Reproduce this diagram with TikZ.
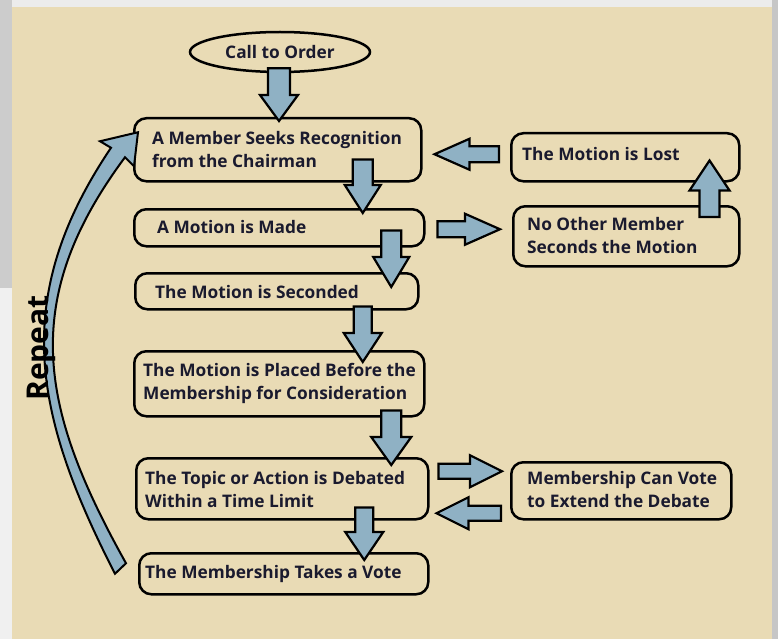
\documentclass[tikz,border=0pt]{standalone}
\usepackage{fontspec}
\setmainfont{Open Sans}
\usetikzlibrary{calc,shapes.geometric}

\definecolor{panel}{HTML}{E9DBB5}
\definecolor{arrowblue}{HTML}{8FB1C4}
\definecolor{ink}{HTML}{1A1A2E}

% fat block arrow: start, tip, half shaft, half head, head length
\newcommand{\blockarrow}[5]{%
	\path ($(#2)!#5!(#1)$) coordinate (hb);
	\draw[blockarr] ($(#1)!#3!90:(#2)$) -- ($(hb)!#3!-90:(#1)$) -- ($(hb)!#4!-90:(#1)$)
		-- (#2) -- ($(hb)!#4!90:(#1)$) -- ($(hb)!#3!90:(#1)$) -- ($(#1)!#3!-90:(#2)$) -- cycle;
}

\begin{document}
\begin{tikzpicture}[x=1pt,y=-1pt,
	stage/.style={draw, line width=2.5pt, rounded corners=12pt, fill=panel, anchor=north west, inner sep=0pt},
	txt/.style={anchor=west, align=left, inner sep=0pt, text=ink, font=\bfseries\fontsize{17.3}{23}\selectfont},
	blockarr/.style={draw, line width=2.2pt, fill=arrowblue, line join=miter}]
	\useasboundingbox (0,0) rectangle (778,639);
	% frame
	\fill[white] (0,0) rectangle (778,639);
	\fill[gray!40] (0,0) rectangle (12,288);
	\fill[gray!12] (0,288) rectangle (12,639);
	\fill[gray!45] (772,0) rectangle (778,639);
	\fill[gray!15] (12,0) rectangle (772,7);
	\fill[panel] (12,7) rectangle (772,639);

	\node[draw, ellipse, line width=2.5pt, fill=panel, minimum width=180pt, minimum height=40pt, inner sep=0pt,
		text=ink, font=\bfseries\fontsize{17.3}{23}\selectfont] (order) at (280,52) {Call to Order};

	\node[stage, minimum width=287pt, minimum height=63pt] (recog) at (133,117) {};
	\node[txt] (recog-t) at ($(recog.west)+(19,0)$) {A Member Seeks Recognition\\from the Chairman};
	\node[stage, minimum width=290pt, minimum height=37pt] (made) at (133,208) {};
	\node[txt] (made-t) at ($(made.west)+(24,-1)$) {A Motion is Made};
	\node[stage, minimum width=283pt, minimum height=36pt] (second) at (134,272) {};
	\node[txt] (second-t) at ($(second.west)+(21,1)$) {The Motion is Seconded};
	\node[stage, minimum width=290pt, minimum height=65pt] (placed) at (133,350) {};
	\node[txt] (placed-t) at ($(placed.west)+(10,0)$) {The Motion is Placed Before the\\Membership for Consideration};
	\node[stage, minimum width=292pt, minimum height=61pt] (debate) at (135,457) {};
	\node[txt] (debate-t) at ($(debate.west)+(10,1)$) {The Topic or Action is Debated\\Within a Time Limit};
	\node[stage, minimum width=289pt, minimum height=41pt] (vote) at (138,552) {};
	\node[txt] (vote-t) at ($(vote.west)+(7,0)$) {The Membership Takes a Vote};

	\node[stage, minimum width=228pt, minimum height=48pt] (lost) at (510,132) {};
	\node[txt] (lost-t) at ($(lost.west)+(12,-3)$) {The Motion is Lost};
	\node[stage, minimum width=226pt, minimum height=60pt] (noother) at (512,205) {};
	\node[txt] (noother-t) at ($(noother.west)+(15,-1)$) {No Other Member\\Seconds the Motion};
	\node[stage, minimum width=220pt, minimum height=57pt] (extend) at (510,461) {};
	\node[txt] (extend-t) at ($(extend.west)+(17,-1)$) {Membership Can Vote\\to Extend the Debate};

	% down the main column
	\coordinate (a0s) at ($(order.south)+(-1,-5)$);
	\coordinate (a0e) at ($(a0s |- recog.north)+(0,4)$);
	\blockarrow{a0s}{a0e}{11pt}{19pt}{26pt}
	\coordinate (a1s) at ($(recog.south)+(85,-23)$);
	\coordinate (a1e) at ($(a1s |- made.north)+(0,5)$);
	\blockarrow{a1s}{a1e}{10pt}{18pt}{28pt}
	\coordinate (a2s) at ($(made.south)+(112,-17)$);
	\coordinate (a2e) at ($(a2s |- second.north)+(0,15)$);
	\blockarrow{a2s}{a2e}{10pt}{18pt}{30pt}
	\coordinate (a3s) at ($(second.south)+(86,-4)$);
	\coordinate (a3e) at ($(a3s |- placed.north)+(0,12)$);
	\blockarrow{a3s}{a3e}{9pt}{19pt}{29pt}
	\coordinate (a4s) at ($(placed.south)+(112,-7)$);
	\coordinate (a4e) at ($(a4s |- debate.north)+(0,8)$);
	\blockarrow{a4s}{a4e}{10pt}{20pt}{28pt}
	\coordinate (a5s) at ($(debate.south)+(82,-13)$);
	\coordinate (a5e) at ($(a5s |- vote.north)+(0,8)$);
	\blockarrow{a5s}{a5e}{9pt}{19pt}{28pt}

	% side branches
	\coordinate (r1s) at ($(made.east)+(12,1.5)$);
	\coordinate (r1e) at ($(noother.west |- r1s)+(-12,0)$);
	\blockarrow{r1s}{r1e}{8pt}{15.5pt}{35pt}
	\coordinate (u1s) at ($(noother.north east)+(-31,12)$);
	\coordinate (u1e) at ($(u1s |- lost.south)+(0,-22)$);
	\blockarrow{u1s}{u1e}{10pt}{20pt}{30pt}
	\coordinate (l1s) at ($(lost.west)+(-11,-3)$);
	\coordinate (l1e) at ($(recog.east |- l1s)+(12,0)$);
	\blockarrow{l1s}{l1e}{8pt}{15.5pt}{35pt}
	\coordinate (r2s) at ($(debate.east)+(9,-17.5)$);
	\coordinate (r2e) at ($(extend.west |- r2s)+(-8,0)$);
	\blockarrow{r2s}{r2e}{7.5pt}{16pt}{32pt}
	\coordinate (l2s) at ($(extend.west)+(-9,22.5)$);
	\coordinate (l2e) at ($(debate.east |- l2s)+(7,0)$);
	\blockarrow{l2s}{l2e}{7.5pt}{16pt}{32pt}

	% repeat loop
	\draw[blockarr, line width=2pt] ($(vote.west)+(-23,0)$) .. controls +(-82,-160) and +(-101,150) .. ($(recog.west)+(-22,-2)$)
		-- ($(recog.west)+(-33,-8.5)$) -- ($(recog.west)+(5,-17.5)$) -- ($(recog.west)+(1,16.5)$)
		-- ($(recog.west)+(-8,7.5)$) .. controls +(-107,144) and +(-86,-154) .. ($(vote.west)+(-12,-10.5)$) -- cycle;
	\node[rotate=90, anchor=base, inner sep=0pt, font=\bfseries\fontsize{30}{36}\selectfont] (rep) at (48,348) {Repeat};
\end{tikzpicture}
\end{document}
